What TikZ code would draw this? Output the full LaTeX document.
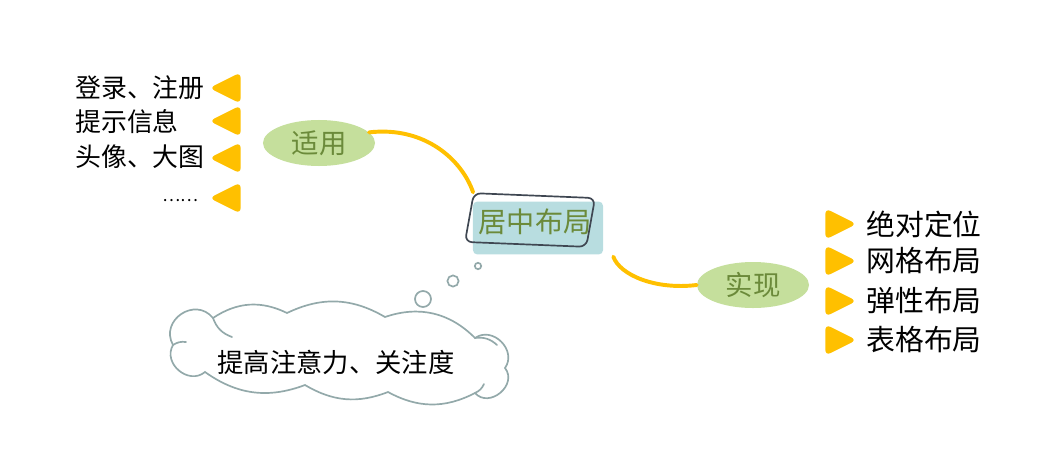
\documentclass[tikz,border=0pt]{standalone}
\usepackage{fontspec}
\newfontfamily\cjk{Noto Sans CJK SC}
\usetikzlibrary{shapes.geometric,positioning,calc}
\definecolor{amber}{HTML}{FFC000}
\definecolor{leaf}{HTML}{C5DF9C}
\definecolor{olive}{HTML}{6B8A3A}
\definecolor{tape}{HTML}{B8DDE0}
\definecolor{ink}{HTML}{3F4752}
\definecolor{mist}{HTML}{93A9AA}
\tikzset{
  blob/.style={ellipse, fill=leaf, text=olive, inner sep=0pt,
    minimum width=2.8cm, minimum height=1.15cm,
    font=\cjk\fontsize{19.5}{22}\selectfont},
  item/.style={inner sep=0pt, text=black, font=\cjk\fontsize{18.4}{22}\selectfont},
  bigitem/.style={item, font=\cjk\fontsize{20.5}{24}\selectfont},
  lbullet/.style={isosceles triangle, isosceles triangle stretches,
    shape border rotate=180, fill=amber, rounded corners=4pt, inner sep=0pt,
    minimum width=0.78cm, minimum height=0.78cm},
  rbullet/.style={lbullet, shape border rotate=0},
  branch/.style={draw=amber, line width=2.8pt, line cap=round},
  bubble/.style={circle, draw=mist, line width=1.2pt, inner sep=0pt},
  puff/.style={draw=mist, line width=1.2pt, line cap=round}
}
\begin{document}
\begin{tikzpicture}[x=0.025cm, y=-0.025cm]
        \useasboundingbox (0,0) rectangle (1056,474);

        % centre topic
        \node (tape) [fill=tape, rounded corners=3pt, minimum width=3.25cm,
          minimum height=1.32cm] at (538,228) {};
        \node (frame) [draw=ink, line width=1.2pt, rounded corners=5pt,
          xslant=0.14, rotate=-2.3, minimum width=3.05cm, minimum height=1.22cm] at (530,220) {};
        \node (hub) [text=olive, font=\cjk\fontsize{20}{24}\selectfont] at (535,222) {居中布局};

        % main branches
        \node (use) [blob] at (319,143) {适用};
        \node (impl) [blob] at (753,285) {实现};

        \draw [branch] (use.12) .. controls (425,126) and (462,160) .. (frame.north west);
        \draw [branch] ([xshift=0.25cm,yshift=-0.05cm]tape.south east)
          .. controls (620,275) and (655,290) .. (impl.west);

        % where it is used
        \foreach \y [count=\i] in {88,121,158,198}
          \node (lb\i) [lbullet] at (231,\y) {};
        \node (login) [item, anchor=west] at (75,88) {登录、注册};
        \node (tips) [item, anchor=west] at (75,122) {提示信息};
        \node (avatar) [item, anchor=west] at (75,157) {头像、大图};
        \node (more) [item, font=\cjk\fontsize{12}{14}\selectfont, anchor=west] at (162,201) {……};

        % how it is done
        \foreach \y/\t [count=\i] in {224/绝对定位,261/网格布局,301/弹性布局,340/表格布局}{
          \node (rb\i) [rbullet] at (835,\y) {};
          \node (rt\i) [bigitem, right=0.22cm of rb\i] {\t};
        }

        % thought cloud
        \node (b1) [bubble, minimum size=0.16cm] at (478,266) {};
        \node (b2) [bubble, minimum size=0.28cm] at (453,281) {};
        \node (b3) [bubble, minimum size=0.4cm] at (423,299) {};
        \draw [puff] (173,345) to[bend left=85, looseness=1.5] (213,318) to[bend left=30] (287,313)
          to[bend left=28] (385,317) to[bend left=32] (475,338) to[bend left=80, looseness=1.3] (505,368)
          to[bend left=88, looseness=1.4] (475,393) to[bend left=28] (388,392) to[bend left=26] (305,385)
          to[bend left=28] (205,372) to[bend left=80, looseness=1.3] cycle;
        \draw [puff] (213,318) to[bend right=25] (232,337);
        \draw [puff] (173,345) to[bend left=20] (186,342);
        \draw [puff] (475,338) to[bend left=25] (497,345);
        \draw [puff] (475,393) to[bend right=20] (484,384);
        \node (thought) [item, font=\cjk\fontsize{18.7}{22}\selectfont] at (336,362) {提高注意力、关注度};

      \end{tikzpicture}
\end{document}
